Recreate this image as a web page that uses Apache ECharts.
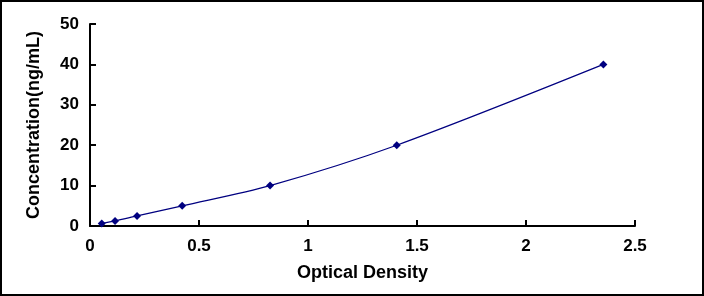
<!DOCTYPE html>
<html>
<head>
<meta charset="utf-8">
<script src="https://cdn.jsdelivr.net/npm/echarts@6/dist/echarts.min.js"></script>
<style>
  html, body { margin: 0; padding: 0; background: #fff; }
  #chart { width: 704px; height: 296px; }
</style>
</head>
<body>
<div id="chart"></div>
<script>
// optical density readings and the matching standard concentrations
var od = [0.054, 0.115, 0.216, 0.423, 0.826, 1.407, 2.355]
var conc = [0.625, 1.25, 2.5, 5, 10, 20, 40]

var points = od.map(function (x, i) { return [x, conc[i]] })

var chart = echarts.init(document.getElementById('chart'))

var font = { fontFamily: 'Liberation Sans, Arial, sans-serif', fontWeight: 'bold', color: '#000' }

chart.setOption({
    animation: false,
    backgroundColor: '#fff',
    grid: { left: 90, right: 69, top: 24, bottom: 70 },
    graphic: [{
        type: 'rect',
        shape: { x: 1, y: 1, width: 702, height: 294 },
        style: { fill: 'none', stroke: '#000', lineWidth: 2 },
        silent: true
    }],
    xAxis: {
        type: 'value',
        min: 0, max: 2.5, interval: 0.5,
        name: 'Optical Density',
        nameLocation: 'middle',
        nameGap: 38,
        nameTextStyle: Object.assign({ fontSize: 18 }, font),
        axisLine: { lineStyle: { color: '#000', width: 2 } },
        axisTick: { inside: true, length: 6, lineStyle: { color: '#000', width: 2 } },
        axisLabel: Object.assign({ fontSize: 17, margin: 12 }, font),
        splitLine: { show: false }
    },
    yAxis: {
        type: 'value',
        min: 0, max: 50, interval: 10,
        name: 'Concentration(ng/mL)',
        nameLocation: 'middle',
        nameGap: 47,
        nameTextStyle: Object.assign({ fontSize: 18 }, font),
        axisLine: { show: true, lineStyle: { color: '#000', width: 2 } },
        axisTick: { show: true, inside: true, length: 6, lineStyle: { color: '#000', width: 2 } },
        axisLabel: Object.assign({ fontSize: 17, margin: 11 }, font),
        splitLine: { show: false }
    },
    series: [{
        type: 'line',
        data: points,
        smooth: 0.3,
        symbol: 'diamond',
        symbolSize: 8,
        itemStyle: { color: '#000080' },
        lineStyle: { color: '#000080', width: 1.2 }
    }]
})
</script>
</body>
</html>
